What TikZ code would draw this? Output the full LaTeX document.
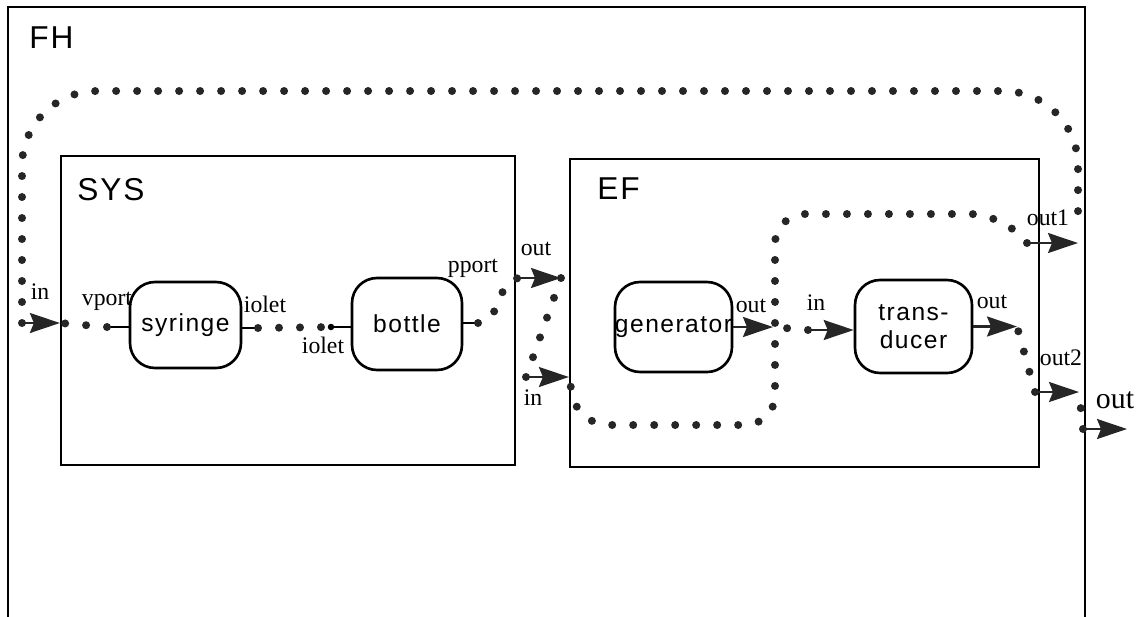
\documentclass[tikz,border=0pt]{standalone}
\usepackage{fontspec}
\setmainfont{Liberation Serif}
\newfontfamily\plotfont[LetterSpace=6]{Liberation Sans}
\usetikzlibrary{arrows.meta,positioning}

\begin{document}
\begin{tikzpicture}[
    x=0.02cm, y=-0.02cm,
    frame/.style={draw, line width=1.3pt, inner sep=0pt},
    block/.style={draw, line width=1.5pt, rounded corners=0.5cm, align=center, inner sep=0pt, font=\plotfont\fontsize{14}{16}\selectfont},
    title/.style={anchor=base west, inner sep=0pt, font=\plotfont\fontsize{18}{22}\selectfont},
    lbl/.style={anchor=base, inner sep=0pt, font=\fontsize{13.5}{16}\selectfont},
    wire/.style={draw=black!85, line width=0.16cm, line cap=round, dash pattern=on 0pt off 0.42cm},
    arrow/.style={draw=black!85, line width=1.3pt, -{Stealth[length=0.6cm, width=0.4cm, inset=0.08cm]}},
    stub/.style={line width=1.3pt}
  ]
    \useasboundingbox (0,0) rectangle (1145,616);

    % frames
    \node[frame, minimum width=21.54cm, minimum height=12.26cm] (fh) at (546.5,313.5) {};
    \node[frame, minimum width=9.08cm, minimum height=6.18cm] (sys) at (288,310.5) {};
    \node[frame, minimum width=9.38cm, minimum height=6.16cm] (ef) at (804.5,313) {};
    \node[title] (fhtitle) at (29,48) {FH};
    \node[title] (systitle) at (77,200) {SYS};
    \node[title] (eftitle) at (597,199) {EF};

    % components
    \node[block, minimum width=2.22cm, minimum height=1.72cm] (syringe) at (185.5,325) {syringe};
    \node[block, minimum width=2.2cm, minimum height=1.84cm] (bottle) at (407,324) {bottle};
    \node[block, minimum width=2.34cm, minimum height=1.8cm, inner xsep=-0.1cm] (generator) at (673.5,327) {generator};
    \node[block, minimum width=2.34cm, minimum height=1.86cm] (transducer) at (913.5,326.5) {trans-\\ducer};

    % port points
    \coordinate (fhinA) at (22,323);
    \coordinate (fhinB) at (sys.west |- fhinA);
    \coordinate (vport) at (107,327);
    \coordinate (ioletL) at (258,328);
    \coordinate (ioletR) at (331,327);
    \coordinate (pport) at (478,323);
    \coordinate (sysoutA) at (520,278);
    \coordinate (sysoutB) at (561,278);
    \coordinate (sysinA) at (526,377);
    \coordinate (sysinB) at (ef.west |- sysinA);
    \coordinate (genoutB) at (773,327);
    \coordinate (trinA) at (808,330);
    \coordinate (troutB) at (1017,326.5);
    \coordinate (out1A) at (1027,243);
    \coordinate (out1B) at (1078,243);
    \coordinate (out2A) at (1035,392);
    \coordinate (out2B) at (1079,392);
    \coordinate (fhoutA) at (1083,429);
    \coordinate (fhoutB) at (1127,429);

    % stubs
    \draw[stub] (vport) -- (syringe.west |- vport);
    \draw[stub] (syringe.east |- ioletL) -- (ioletL);
    \draw[stub] (ioletR) -- (bottle.west |- ioletR);
    \draw[stub] (bottle.east |- pport) -- (pport);
    \foreach \p in {vport,ioletL,ioletR,pport}
      \fill (\p) circle (0.065cm);

    % wires
    \draw[wire, rounded corners=1.5cm] (fhinA) -- (fhinA |- 0,91) -- (out1B |- 0,91) -- ([yshift=0.25cm]out1B);
    \draw[wire] (vport) -- (fhinB);
    \draw[wire] (ioletL) -- (ioletR);
    \draw[wire] (pport) to[out=0, in=180] (sysoutA);
    \draw[wire] (sysinA) -- (sysoutB);
    \draw[wire, rounded corners=0.6cm] (out1A) -- (1000,214) -- (775,214) -- (775,425) -- (578,425) -- (sysinB);
    \draw[wire] (trinA) -- (genoutB);
    \draw[wire] (out2A) -- (troutB);
    \draw[wire] (fhoutA) -- (out2B);

    % arrows
    \draw[arrow] (fhinA) -- (fhinB);
    \draw[arrow] (sysoutA) -- (sysoutB);
    \draw[arrow] (sysinA) -- (sysinB);
    \draw[arrow] (generator.east) -- (genoutB);
    \draw[arrow] (trinA) -- (transducer.west |- trinA);
    \draw[arrow] (transducer.east) -- (troutB);
    \draw[arrow] (out1A) -- (out1B);
    \draw[arrow] (out2A) -- (out2B);
    \draw[arrow] (fhoutA) -- (fhoutB);

    % labels
    \node[lbl] (lblfhin) at (40,299) {in};
    \node[lbl] (lblvport) at (107,305) {vport};
    \node[lbl] (lblioletL) at (265,312) {iolet};
    \node[lbl] (lblioletR) at (323,353) {iolet};
    \node[lbl] (lblpport) at (473,272) {pport};
    \node[lbl] (lblsysout) at (536,255) {out};
    \node[lbl] (lblsysin) at (533,405) {in};
    \node[lbl] (lblgenout) at (751,312) {out};
    \node[lbl] (lbltrin) at (816,310) {in};
    \node[lbl] (lbltrout) at (992,308) {out};
    \node[lbl] (lblout1) at (1048,225) {out1};
    \node[lbl] (lblout2) at (1061,365) {out2};
    \node[lbl, font=\fontsize{17}{20}\selectfont] (lblfhout) at (1115,408) {out};
  \end{tikzpicture}
\end{document}
